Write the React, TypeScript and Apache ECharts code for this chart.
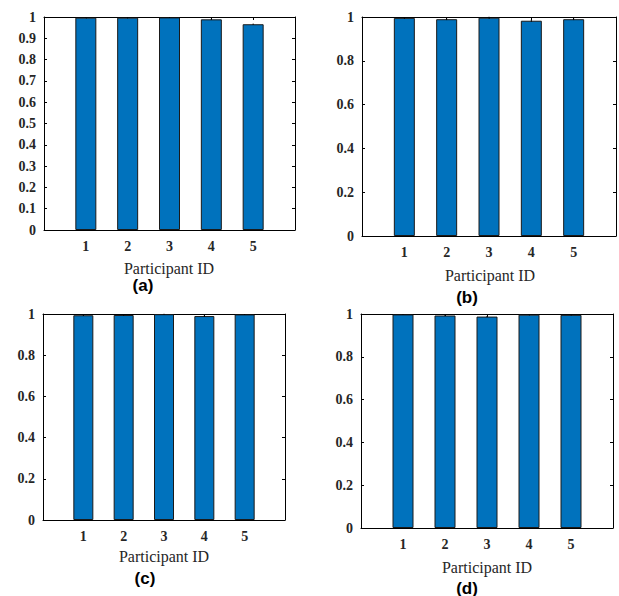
import React, { useEffect, useRef } from "react";
import * as echarts from "echarts";

const categories = [1, 2, 3, 4, 5];
const xTickLabels = ["1", "2", "3", "4", "5"];
const valuesA = [0.997, 0.997, 0.998, 0.989, 0.966];
const errorsA = [0.002, 0.002, 0.002, 0.003, 0.003];
const valuesB = [0.996, 0.99, 0.997, 0.983, 0.99];
const errorsB = [0.004, 0.004, 0.004, 0.005, 0.004];
const valuesC = [0.994, 0.995, 0.999, 0.99, 0.998];
const errorsC = [0.003, 0.003, 0.002, 0.004, 0.002];
const valuesD = [0.998, 0.993, 0.988, 0.997, 0.996];
const errorsD = [0.002, 0.003, 0.003, 0.002, 0.002];
const yIntervals = [0.1, 0.2, 0.2, 0.2];
const panelLetters = ["(a)", "(b)", "(c)", "(d)"];
const xAxisTitle = "Participant ID";

const SERIF = "Times New Roman, Liberation Serif, DejaVu Serif, serif";
const SANS = "Arial, Liberation Sans, sans-serif";
const INK = "#262626";
const BAR = "#0072BD";

const grids = [
  { left: 44, top: 17, width: 251, height: 213 },
  { left: 362, top: 17, width: 255, height: 219 },
  { left: 43, top: 314, width: 242, height: 206 },
  { left: 361, top: 314, width: 252, height: 214 },
];
const titlePos = [
  { px: 169, py: 268, lx: 143, ly: 285 },
  { px: 490, py: 275, lx: 467, ly: 297 },
  { px: 164, py: 556, lx: 145, ly: 578 },
  { px: 487, py: 567, lx: 467, ly: 588 },
];

export default function App() {
  const ref = useRef<HTMLDivElement>(null);
  useEffect(() => {
    if (!ref.current) return;
    const chart = echarts.init(ref.current, null, { renderer: "svg" });
    const values = [valuesA, valuesB, valuesC, valuesD];
    const errors = [errorsA, errorsB, errorsC, errorsD];
    const xAxes: any[] = [];
    const yAxes: any[] = [];
    const series: any[] = [];
    const graphic: any[] = [];
    grids.forEach((g, i) => {
      const tickCommon = { show: true, inside: true, length: 3, lineStyle: { color: "#000", width: 1 } };
      const lineCommon = { show: true, onZero: false, lineStyle: { color: "#000", width: 1 } };
      xAxes.push({
        type: "value", gridIndex: i, min: 0, max: 6, interval: 1, position: "bottom",
        axisLine: lineCommon, axisTick: tickCommon, splitLine: { show: false },
        axisLabel: {
          margin: 9, color: INK, fontFamily: SERIF, fontWeight: "bold", fontSize: 14,
          formatter: (v: number) => {
            const k = categories.indexOf(v);
            return k >= 0 ? xTickLabels[k] : "";
          },
        },
      });
      xAxes.push({
        type: "value", gridIndex: i, min: 0, max: 6, interval: 1, position: "top",
        axisLine: lineCommon, axisTick: tickCommon, splitLine: { show: false }, axisLabel: { show: false },
      });
      yAxes.push({
        type: "value", gridIndex: i, min: 0, max: 1, interval: yIntervals[i], position: "left",
        axisLine: lineCommon, axisTick: tickCommon, splitLine: { show: false },
        axisLabel: { margin: 8, color: INK, fontFamily: SERIF, fontWeight: "bold", fontSize: 14 },
      });
      yAxes.push({
        type: "value", gridIndex: i, min: 0, max: 1, interval: yIntervals[i], position: "right",
        axisLine: lineCommon, axisTick: tickCommon, splitLine: { show: false }, axisLabel: { show: false },
      });
      series.push({
        type: "bar", xAxisIndex: 2 * i, yAxisIndex: 2 * i,
        barWidth: Math.round((g.width / 6) * 0.5),
        itemStyle: { color: BAR, borderColor: "#1a1a1a", borderWidth: 1 },
        data: categories.map((c, j) => [c, values[i][j]]),
      });
      series.push({
        type: "custom", xAxisIndex: 2 * i, yAxisIndex: 2 * i, clip: false, z: 5,
        encode: { x: 0, y: 1 },
        data: categories.map((c, j) => [c, values[i][j], errors[i][j]]),
        renderItem: (_p: any, api: any) => {
          const x = api.value(0), y = api.value(1), e = api.value(2);
          const a = api.coord([x, y + e]);
          const b = api.coord([x, y - e]);
          return {
            type: "line",
            shape: { x1: a[0], y1: a[1], x2: b[0], y2: b[1] },
            style: { stroke: "#000", lineWidth: 1 },
          };
        },
      });
      const t = titlePos[i];
      graphic.push({
        type: "text", x: t.px, y: t.py,
        style: {
          text: xAxisTitle, fontFamily: SERIF, fontSize: 16, fontWeight: "normal",
          fill: INK, align: "center", verticalAlign: "middle",
        },
      });
      graphic.push({
        type: "text", x: t.lx, y: t.ly,
        style: {
          text: panelLetters[i], fontFamily: SANS, fontSize: 17, fontWeight: "bold",
          fill: "#000", align: "center", verticalAlign: "middle",
        },
      });
    });
    chart.setOption({
      animation: false,
      backgroundColor: "#fff",
      grid: grids.map((g) => ({ ...g, containLabel: false, show: true, borderWidth: 0, backgroundColor: "#fff" })),
      xAxis: xAxes,
      yAxis: yAxes,
      series,
      graphic,
    });
    return () => chart.dispose();
  }, []);
  return (
    <div
      ref={ref}
      style={{ position: "absolute", left: 0, top: 0, width: 619, height: 596 }}
    />
  );
}
